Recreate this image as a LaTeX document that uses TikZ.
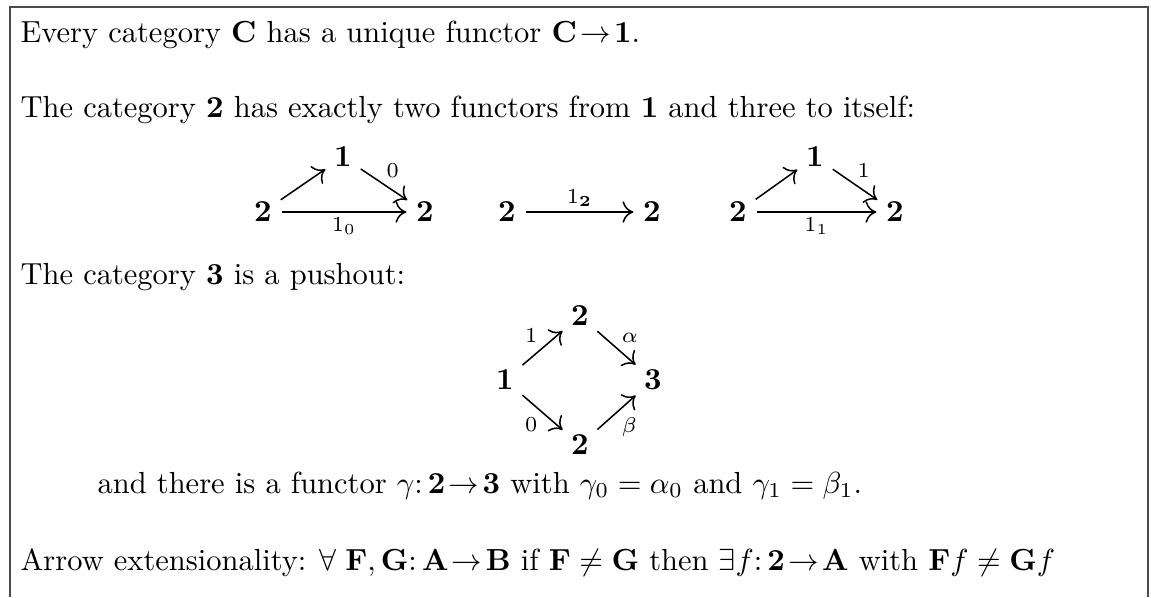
\documentclass[tikz,border=0pt]{standalone}
\usepackage{amsmath, amssymb}
\usepackage{tikz}
\usetikzlibrary{arrows.meta}
\tikzset{
  obj/.style={inner sep=1.5pt, font=\normalsize},
  lbl/.style={font=\scriptsize, inner sep=1.5pt},
  mor/.style={-{To[length=3.6pt, width=7pt]}, line width=0.5pt, shorten <=1.5pt, shorten >=1.5pt},
  txt/.style={anchor=base west, inner sep=0pt},
  frame/.style={line width=0.6pt, black!70}
}

\begin{document}
\begin{tikzpicture}[x=0.328pt, y=-0.328pt]
\useasboundingbox (0,0) rectangle (1151,597);
% ===== frame, open at the bottom =====
\draw[frame] (10,597) -- (10,7) -- (1148,7) -- (1148,597);
% ===== text lines =====
\node[txt] (line1) at (20,42) {Every category $\mathbf{C}$ has a unique functor $\mathbf{C}\mathrel{\!\to\!}\mathbf{1}$.};
\node[txt] (line2) at (20,117) {The category $\mathbf{2}$ has exactly two functors from $\mathbf{1}$ and three to itself:};
\node[txt] (line3) at (20,284) {The category $\mathbf{3}$ is a pushout:};
\node[txt] (line4) at (97,493) {and there is a functor $\gamma\mathpunct{:}\mathbf{2}\mathrel{\!\to\!}\mathbf{3}$ with $\gamma_0=\alpha_0$ and $\gamma_1=\beta_1$.};
\node[txt] (line5) at (20,570) {Arrow extensionality: $\forall\;\mathbf{F},\mathbf{G}\mathpunct{:}\mathbf{A}\mathrel{\!\to\!}\mathbf{B}$ if $\mathbf{F}\neq\mathbf{G}$ then $\exists f\mathpunct{:}\mathbf{2}\mathrel{\!\to\!}\mathbf{A}$ with $\mathbf{F}f\neq\mathbf{G}f$};
% ===== the two functors 1 -> 2 and the identity =====
\node[obj] (a1) at (263,212) {$\mathbf{2}$};
\node[obj] (b1) at (343,157) {$\mathbf{1}$};
\node[obj] (c1) at (425,212) {$\mathbf{2}$};
\draw[mor] (a1) -- (b1);
\draw[mor] (b1) -- node[lbl, above right, pos=.45] {$0$} (c1);
\draw[mor] (a1) -- node[lbl, below] {$1_0$} (c1);
\node[obj] (a2) at (507,212) {$\mathbf{2}$};
\node[obj] (c2) at (652,212) {$\mathbf{2}$};
\draw[mor] (a2) -- node[lbl, above] {$1_{\mathbf{2}}$} (c2);
\node[obj] (a3) at (738,212) {$\mathbf{2}$};
\node[obj] (b3) at (815,157) {$\mathbf{1}$};
\node[obj] (c3) at (895,212) {$\mathbf{2}$};
\draw[mor] (a3) -- (b3);
\draw[mor] (b3) -- node[lbl, above right, pos=.45] {$1$} (c3);
\draw[mor] (a3) -- node[lbl, below] {$1_1$} (c3);
% ===== pushout square =====
\node[obj] (p) at (505,380) {$\mathbf{1}$};
\node[obj] (q) at (580,316) {$\mathbf{2}$};
\node[obj] (r) at (653,380) {$\mathbf{3}$};
\node[obj] (s) at (580,445) {$\mathbf{2}$};
\draw[mor] (p) -- node[lbl, above left] {$1$} (q);
\draw[mor] (q) -- node[lbl, above right] {$\alpha$} (r);
\draw[mor] (p) -- node[lbl, below left] {$0$} (s);
\draw[mor] (s) -- node[lbl, below right] {$\beta$} (r);
\end{tikzpicture}
\end{document}
